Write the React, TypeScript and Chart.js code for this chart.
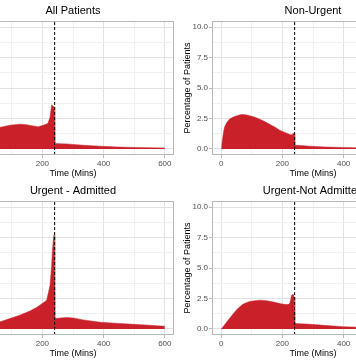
import React, { useEffect, useRef } from 'react';
import { Chart, registerables } from 'chart.js';

Chart.register(...registerables);

// ---- data ----
const cutoffMins = 240;

const allPatientsTime = [0, 5, 15, 30, 45, 60, 94, 126, 143, 170, 186, 203, 215, 219, 225, 230, 234, 238, 240, 241, 279, 334, 389, 449, 500, 550, 600];
const allPatientsPct = [0, 0.3, 0.8, 1.2, 1.5, 1.76, 1.95, 2.03, 2.0, 1.89, 1.81, 1.95, 2.05, 2.17, 2.6, 3.6, 3.55, 3.45, 3.45, 0.44, 0.41, 0.3, 0.22, 0.15, 0.12, 0.1, 0.08];

const nonUrgentTime = [0, 2, 5, 8, 11, 18, 27, 38, 49, 66, 80, 93, 110, 126, 142, 158, 175, 191, 208, 224, 232, 235, 238, 240, 241, 260, 290, 340, 399, 450, 500, 550, 600];
const nonUrgentPct = [0, 0.3, 0.9, 1.4, 1.8, 2.15, 2.44, 2.6, 2.71, 2.83, 2.8, 2.73, 2.6, 2.44, 2.25, 2.03, 1.8, 1.54, 1.35, 1.18, 1.15, 1.31, 1.2, 1.15, 0.3, 0.27, 0.22, 0.16, 0.11, 0.09, 0.07, 0.06, 0.05];

const urgentAdmittedTime = [0, 5, 15, 30, 45, 60, 94, 126, 159, 181, 203, 214, 219, 225, 230, 233, 236, 238, 240, 241, 260, 279, 300, 334, 389, 449, 497, 550, 600];
const urgentAdmittedPct = [0, 0.1, 0.2, 0.35, 0.45, 0.57, 0.85, 1.13, 1.46, 1.76, 2.14, 2.36, 2.9, 3.6, 5.1, 6.5, 7.4, 7.7, 7.5, 0.85, 0.9, 0.94, 0.9, 0.74, 0.55, 0.45, 0.38, 0.3, 0.22];

const urgentNotAdmittedTime = [0, 2, 10, 27, 49, 60, 71, 82, 93, 110, 126, 142, 158, 175, 191, 205, 213, 220, 224, 227, 230, 235, 238, 240, 241, 260, 290, 345, 399, 450, 500, 550, 600];
const urgentNotAdmittedPct = [0, 0.05, 0.3, 0.85, 1.54, 1.8, 2.03, 2.15, 2.25, 2.32, 2.36, 2.33, 2.27, 2.18, 2.08, 2.02, 2.0, 2.02, 2.08, 2.4, 2.77, 2.85, 2.6, 2.5, 0.44, 0.42, 0.38, 0.27, 0.18, 0.14, 0.12, 0.1, 0.08];

const xMajorTicks = [0, 200, 400, 600];
const xMinorTicks = [100, 300, 500];
const yMajorTicks = [0, 2.5, 5, 7.5, 10];
const yMinorTicks = [1.25, 3.75, 6.25, 8.75];
const xRange = [-30, 630];
const yRange = [-0.5, 10.5];

const xAxisTitle = 'Time (Mins)';
const yAxisTitle = 'Percentage of Patients';

// ---- styles ----
const FONT = '"Liberation Sans", Arial, Helvetica, sans-serif';
const FILL = '#c9202a';
const GRID_MAJOR = '#e2e2e2';
const GRID_MINOR = '#f0f0f0';
const BORDER = '#b8b8b8';
const CANVAS_W = 245;
const CANVAS_H = 180;

const borderPlugin = {
  id: 'panelBorder',
  afterDraw(chart: any) {
    const { ctx, chartArea } = chart;
    ctx.save();
    ctx.strokeStyle = BORDER;
    ctx.lineWidth = 1;
    ctx.strokeRect(
      Math.round(chartArea.left) + 0.5,
      Math.round(chartArea.top) + 0.5,
      Math.round(chartArea.right - chartArea.left) - 1,
      Math.round(chartArea.bottom - chartArea.top) - 1
    );
    ctx.restore();
  },
};

function isMajor(list: number[], v: number) {
  return list.some((m) => Math.abs(m - v) < 1e-9);
}

type PanelProps = { title: string; times: number[]; pcts: number[]; left: number; top: number };

function Panel({ title, times, pcts, left, top }: PanelProps) {
  const ref = useRef<HTMLCanvasElement | null>(null);
  useEffect(() => {
    if (!ref.current) return;
    const chart = new Chart(ref.current, {
      type: 'line',
      data: {
        datasets: [
          {
            label: 'cutoff',
            data: [
              { x: cutoffMins, y: yRange[0] },
              { x: cutoffMins, y: yRange[1] },
            ],
            borderColor: '#000000',
            borderWidth: 1,
            borderDash: [3, 2],
            pointRadius: 0,
            fill: false,
            order: 1,
          },
          {
            label: title,
            data: times.map((t, i) => ({ x: t, y: pcts[i] })),
            borderColor: FILL,
            borderWidth: 0.5,
            backgroundColor: FILL,
            pointRadius: 0,
            fill: 'origin',
            tension: 0,
            order: 2,
          },
        ],
      },
      options: {
        responsive: false,
        maintainAspectRatio: false,
        animation: false,
        devicePixelRatio: 1,
        layout: { padding: { left: 0, right: 7, top: 0, bottom: 0 } },
        plugins: {
          legend: { display: false },
          tooltip: { enabled: false },
          title: {
            display: true,
            fullSize: false,
            text: title,
            color: '#000000',
            font: { family: FONT, size: 11, weight: 'normal' },
            padding: { top: 4, bottom: 3.8 },
          },
        },
        scales: {
          x: {
            type: 'linear',
            min: xRange[0],
            max: xRange[1],
            afterBuildTicks: (scale: any) => {
              scale.ticks = [...xMajorTicks, ...xMinorTicks].sort((a, b) => a - b).map((v) => ({ value: v }));
            },
            afterFit: (scale: any) => {
              scale.height = 25;
            },
            border: { display: false },
            grid: {
              color: (ctx: any) => (isMajor(xMajorTicks, ctx.tick.value) ? GRID_MAJOR : GRID_MINOR),
              lineWidth: 1,
              drawTicks: true,
              tickLength: 3,
              tickColor: (ctx: any) => (isMajor(xMajorTicks, ctx.tick.value) ? BORDER : 'rgba(0,0,0,0)'),
            },
            ticks: {
              autoSkip: false,
              maxRotation: 0,
              padding: 1,
              color: '#4d4d4d',
              font: { family: FONT, size: 8 },
              callback: (v: any) => (isMajor(xMajorTicks, Number(v)) ? String(v) : ''),
            },
            title: {
              display: true,
              text: xAxisTitle,
              color: '#000000',
              font: { family: FONT, size: 9 },
              padding: { top: 0, bottom: 1 },
            },
          },
          y: {
            type: 'linear',
            min: yRange[0],
            max: yRange[1],
            afterBuildTicks: (scale: any) => {
              scale.ticks = [...yMajorTicks, ...yMinorTicks].sort((a, b) => a - b).map((v) => ({ value: v }));
            },
            afterFit: (scale: any) => {
              scale.width = 36;
            },
            border: { display: false },
            grid: {
              color: (ctx: any) => (isMajor(yMajorTicks, ctx.tick.value) ? GRID_MAJOR : GRID_MINOR),
              lineWidth: 1,
              drawTicks: true,
              tickLength: 3,
              tickColor: (ctx: any) => (isMajor(yMajorTicks, ctx.tick.value) ? BORDER : 'rgba(0,0,0,0)'),
            },
            ticks: {
              autoSkip: false,
              padding: 1,
              color: '#4d4d4d',
              font: { family: FONT, size: 8 },
              callback: (v: any) => (isMajor(yMajorTicks, Number(v)) ? Number(v).toFixed(1) : ''),
            },
            title: {
              display: true,
              text: yAxisTitle,
              color: '#000000',
              font: { family: FONT, size: 9 },
              padding: { top: 6, bottom: 0 },
            },
          },
        },
      },
      plugins: [borderPlugin],
    } as any);
    return () => chart.destroy();
  }, [title, times, pcts]);
  return (
    <canvas
      ref={ref}
      width={CANVAS_W}
      height={CANVAS_H}
      style={{ position: 'absolute', left, top, width: CANVAS_W, height: CANVAS_H, display: 'block' }}
    />
  );
}

export default function App() {
  return (
    <div
      style={{
        position: 'absolute',
        left: 0,
        top: 0,
        width: 356,
        height: 364,
        overflow: 'hidden',
        background: '#ffffff',
      }}
    >
      <Panel title="All Patients" times={allPatientsTime} pcts={allPatientsPct} left={-64} top={0} />
      <Panel title="Non-Urgent" times={nonUrgentTime} pcts={nonUrgentPct} left={176} top={0} />
      <Panel title="Urgent - Admitted" times={urgentAdmittedTime} pcts={urgentAdmittedPct} left={-64} top={180} />
      <Panel title="Urgent-Not Admitted" times={urgentNotAdmittedTime} pcts={urgentNotAdmittedPct} left={176} top={180} />
    </div>
  );
}
